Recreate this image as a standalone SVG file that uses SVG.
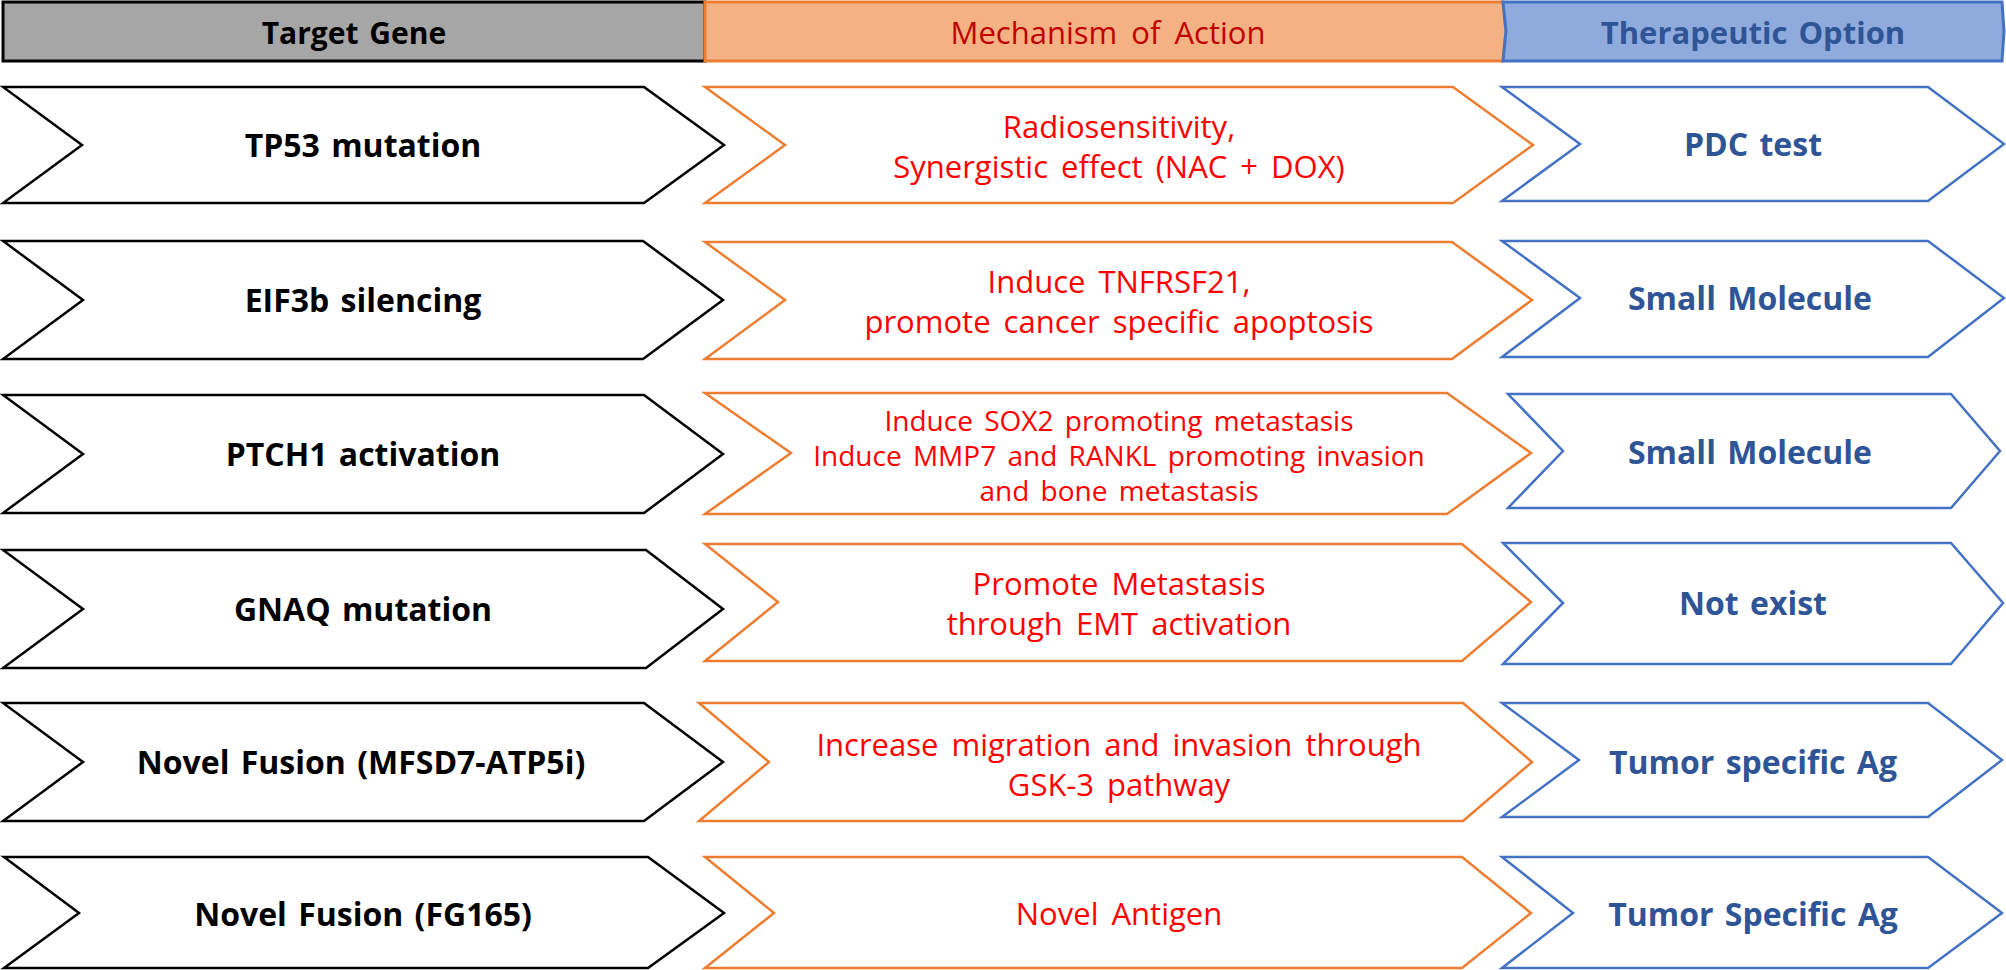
<svg xmlns="http://www.w3.org/2000/svg" width="2006" height="970" viewBox="0 0 2006 970">
  <style>
    text { font-family: "Open Sans", "Noto Sans", "Liberation Sans", sans-serif; text-anchor: middle; }
    .hd-gray { fill: #A6A6A6; stroke: #000000; stroke-width: 3; }
    .hd-orange { fill: #F4B183; stroke: #ED7D31; stroke-width: 3; }
    .hd-blue { fill: #8FAADC; stroke: #4472C4; stroke-width: 3; }
    .chev-k { fill: #FFFFFF; stroke: #000000; stroke-width: 2.5; stroke-linejoin: miter; }
    .chev-o { fill: #FFFFFF; stroke: #ED7D31; stroke-width: 2.5; stroke-linejoin: miter; }
    .chev-b { fill: #FFFFFF; stroke: #4472C4; stroke-width: 2.5; stroke-linejoin: miter; }
    .t-gene { font-size: 32px; font-weight: 700; fill: #000000; word-spacing: 3px; }
    .t-mech { font-size: 31px; font-weight: 400; fill: #FF0000; word-spacing: 5px; }
    .t-mech-s { font-size: 28px; font-weight: 400; fill: #FF0000; word-spacing: 4px; }
    .t-opt { font-size: 32px; font-weight: 700; fill: #2F5597; word-spacing: 3px; }
  </style>

  <!-- column headers -->
  <g id="header-target-gene">
    <rect class="hd-gray" x="3" y="2" width="702" height="59"/>
    <text x="354" y="44" style="font-size:30px;font-weight:700;fill:#000000;word-spacing:3px">Target Gene</text>
  </g>
  <g id="header-mechanism">
    <polygon class="hd-orange" points="705,2 1503,2 1506,31 1503,61 705,61"/>
    <text x="1108" y="44" style="font-size:31px;font-weight:400;fill:#C00000;word-spacing:6px">Mechanism of Action</text>
  </g>
  <g id="header-therapeutic">
    <polygon class="hd-blue" points="1503,2 2002,2 2004,31 2002,61 1503,61 1506,31"/>
    <text x="1753" y="44" style="font-size:31px;font-weight:700;fill:#2F5597;word-spacing:3px">Therapeutic Option</text>
  </g>

  <!-- row 1 -->
  <g id="gene-tp53">
    <polygon class="chev-k" points="3,87 644,87 724,145 644,203 3,203 82,145"/>
    <text class="t-gene" x="363" y="157">TP53 mutation</text>
  </g>
  <g id="mech-tp53">
    <polygon class="chev-o" points="705,87 1453,87 1533,145 1453,203 705,203 785,145"/>
    <text class="t-mech" x="1119" y="138">Radiosensitivity,</text>
    <text class="t-mech" x="1119" y="178">Synergistic effect (NAC + DOX)</text>
  </g>
  <g id="opt-tp53">
    <polygon class="chev-b" points="1502,87 1928,87 2004,144 1928,201 1502,201 1580,144"/>
    <text class="t-opt" x="1753" y="156">PDC test</text>
  </g>

  <!-- row 2 -->
  <g id="gene-eif3b">
    <polygon class="chev-k" points="3,241 643,241 723,300 643,359 3,359 83,300"/>
    <text class="t-gene" x="363" y="312">EIF3b silencing</text>
  </g>
  <g id="mech-eif3b">
    <polygon class="chev-o" points="705,242 1452,242 1532,300 1452,359 705,359 785,300"/>
    <text class="t-mech" x="1119" y="293">Induce TNFRSF21,</text>
    <text class="t-mech" x="1119" y="333">promote cancer specific apoptosis</text>
  </g>
  <g id="opt-eif3b">
    <polygon class="chev-b" points="1502,241 1928,241 2004,298 1928,357 1502,357 1580,298"/>
    <text class="t-opt" x="1750" y="310">Small Molecule</text>
  </g>

  <!-- row 3 -->
  <g id="gene-ptch1">
    <polygon class="chev-k" points="3,395 644,395 723,454 644,513 3,513 83,454"/>
    <text class="t-gene" x="363" y="466">PTCH1 activation</text>
  </g>
  <g id="mech-ptch1">
    <polygon class="chev-o" points="705,393 1447,393 1531,453 1447,514 705,514 791,453"/>
    <text class="t-mech-s" x="1119" y="431">Induce SOX2 promoting metastasis</text>
    <text class="t-mech-s" x="1119" y="466">Induce MMP7 and RANKL promoting invasion</text>
    <text class="t-mech-s" x="1119" y="501">and bone metastasis</text>
  </g>
  <g id="opt-ptch1">
    <polygon class="chev-b" points="1508,394 1951,394 2000,451 1951,508 1508,508 1563,451"/>
    <text class="t-opt" x="1750" y="464">Small Molecule</text>
  </g>

  <!-- row 4 -->
  <g id="gene-gnaq">
    <polygon class="chev-k" points="3,550 646,550 723,609 646,668 3,668 83,609"/>
    <text class="t-gene" x="363" y="621">GNAQ mutation</text>
  </g>
  <g id="mech-gnaq">
    <polygon class="chev-o" points="705,544 1462,544 1531,602 1462,661 705,661 778,602"/>
    <text class="t-mech" x="1119" y="595">Promote Metastasis</text>
    <text class="t-mech" x="1119" y="635">through EMT activation</text>
  </g>
  <g id="opt-gnaq">
    <polygon class="chev-b" points="1503,543 1951,543 2003,603 1951,664 1503,664 1563,603"/>
    <text class="t-opt" x="1753" y="615">Not exist</text>
  </g>

  <!-- row 5 -->
  <g id="gene-mfsd7">
    <polygon class="chev-k" points="3,703 644,703 723,762 644,821 3,821 83,762"/>
    <text class="t-gene" x="361" y="774">Novel Fusion (MFSD7-ATP5i)</text>
  </g>
  <g id="mech-mfsd7">
    <polygon class="chev-o" points="699,703 1463,703 1532,762 1463,821 699,821 769,762"/>
    <text class="t-mech" x="1119" y="756">Increase migration and invasion through</text>
    <text class="t-mech" x="1119" y="796">GSK-3 pathway</text>
  </g>
  <g id="opt-mfsd7">
    <polygon class="chev-b" points="1502,703 1928,703 2002,760 1928,817 1502,817 1579,760"/>
    <text class="t-opt" x="1753" y="774">Tumor specific Ag</text>
  </g>

  <!-- row 6 -->
  <g id="gene-fg165">
    <polygon class="chev-k" points="4,857 648,857 724,913 648,968 4,968 79,913"/>
    <text class="t-gene" x="363" y="926">Novel Fusion (FG165)</text>
  </g>
  <g id="mech-fg165">
    <polygon class="chev-o" points="705,857 1462,857 1531,913 1462,968 705,968 774,913"/>
    <text class="t-mech" x="1119" y="925">Novel Antigen</text>
  </g>
  <g id="opt-fg165">
    <polygon class="chev-b" points="1502,857 1928,857 2002,913 1928,968 1502,968 1573,913"/>
    <text class="t-opt" x="1753" y="926">Tumor Specific Ag</text>
  </g>

  <!-- no connectors: the chevrons themselves carry the flow -->
  <g id="connectors"/>
</svg>
